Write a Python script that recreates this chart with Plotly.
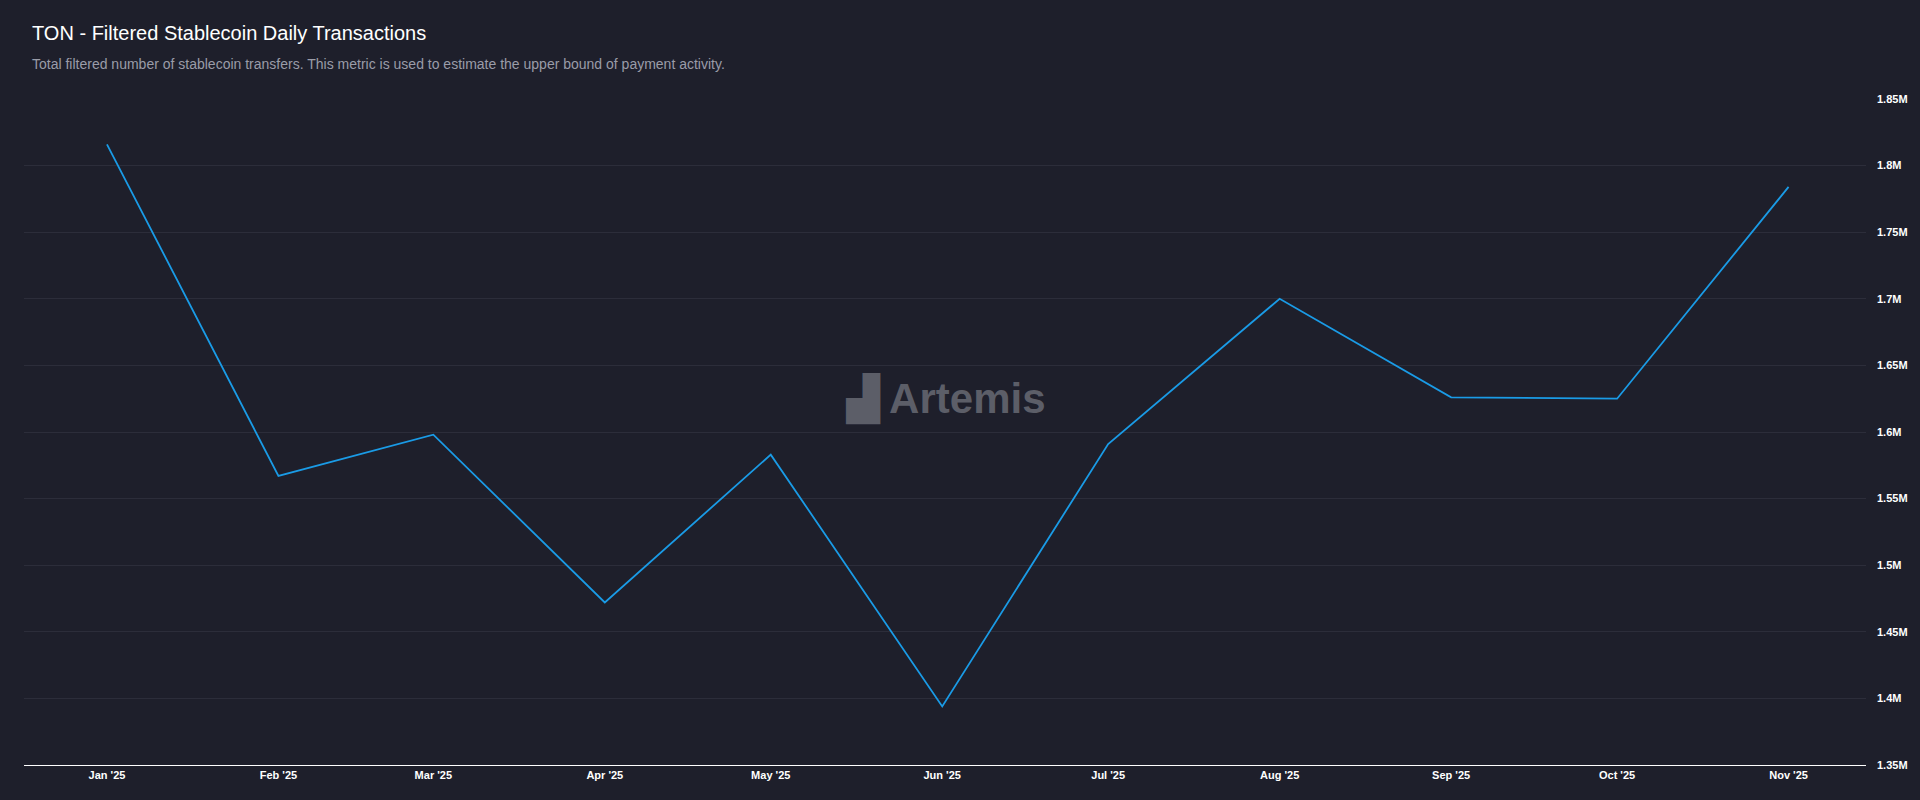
import plotly.graph_objects as go

months = ["2025-01-01","2025-02-01","2025-03-01","2025-04-01","2025-05-01","2025-06-01",
          "2025-07-01","2025-08-01","2025-09-01","2025-10-01","2025-11-01"]
values = [1816000,1567000,1598000,1472000,1583000,1394000,1591000,1700000,1626000,1625000,1784000]
ytick_vals = [1350000+50000*i for i in range(11)]
ytick_text = ["1.35M","1.4M","1.45M","1.5M","1.55M","1.6M","1.65M","1.7M","1.75M","1.8M","1.85M"]
month_labels = ["Jan '25","Feb '25","Mar '25","Apr '25","May '25","Jun '25","Jul '25","Aug '25","Sep '25","Oct '25","Nov '25"]

bg = "#1e1f2b"
L, R, T, B = 24, 50, 99, 35
W, H = 1920, 800
pw, ph = W-L-R, H-T-B

fig = go.Figure(go.Scatter(x=months, y=values, mode="lines",
                           line=dict(color="#1a9be6", width=1.8), hoverinfo="x+y"))
fig.update_layout(
    width=W, height=H, paper_bgcolor=bg, plot_bgcolor=bg,
    margin=dict(l=L, r=R, t=T, b=B), showlegend=False,
    font=dict(family="Liberation Sans, Arial", color="#ffffff"),
    annotations=[
        dict(text="TON - Filtered Stablecoin Daily Transactions", x=(30-L)/pw, y=(H-33-B)/ph,
             xref="paper", yref="paper", showarrow=False, font=dict(size=20, color="#ffffff"),
             xanchor="left", yanchor="middle"),
        dict(text="Total filtered number of stablecoin transfers. This metric is used to estimate the upper bound of payment activity.",
             x=(30-L)/pw, y=(H-64-B)/ph, xref="paper", yref="paper", showarrow=False,
             font=dict(size=14, color="#9a9ca8"), xanchor="left", yanchor="middle"),
        dict(text="<b>▟ Artemis</b>", x=0.5, y=(H-399-B)/ph, xref="paper", yref="paper", showarrow=False,
             font=dict(size=42, color="#5c5e68"), yanchor="middle"),
    ],
)
fig.update_xaxes(range=["2024-12-17","2025-11-15"], tickvals=months,
                 ticktext=["<b>%s</b>" % m for m in month_labels],
                 showgrid=False, showline=True, linecolor="#ffffff", linewidth=1,
                 tickfont=dict(size=11, color="#ffffff"), ticks="", zeroline=False)
fig.update_yaxes(side="right", range=[1350000,1850000], tickvals=ytick_vals,
                 ticktext=["<b>%s</b>" % t for t in ytick_text], ticklabelstandoff=10,
                 showgrid=True, gridcolor="#2c2d3a", tickfont=dict(size=11, color="#ffffff"),
                 zeroline=False, showline=False)
fig.write_html("out.html", config={"displayModeBar": False},
               post_script="document.body.style.margin='0';document.body.style.background='%s';" % bg)
